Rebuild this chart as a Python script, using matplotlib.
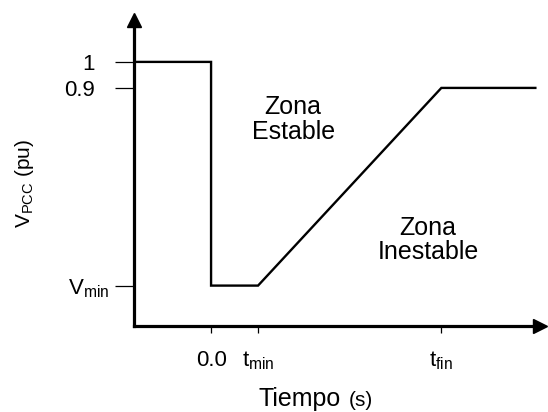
import matplotlib
matplotlib.use("Agg")
from matplotlib import pyplot as plt
from matplotlib import transforms

plt.rcParams["font.family"] = ["Liberation Sans", "DejaVu Sans"]
plt.rcParams["mathtext.fontset"] = "custom"
plt.rcParams["mathtext.rm"] = "Liberation Sans"
plt.rcParams["mathtext.it"] = "Liberation Sans"

# schematic voltage-time curve (t in units of t_min, V in pu)
v_min = 0.14
t_fin = 4.9
times = [-1.64, 0.0, 0.0, 1.0, t_fin, 6.9]
voltage = [1.0, 1.0, v_min, v_min, 0.9, 0.9]

xtick_pos = [0.0, 1.0, t_fin]
xtick_labels = ["0.0", r"$\mathregular{t_{min}}$", r"$\mathregular{t_{fin}}$"]
ytick_pos = [v_min, 0.9, 1.0]
ytick_labels = [r"$\mathregular{V_{min}}$", "0.9", "1"]

fig = plt.figure(figsize=(5.48, 4.12), dpi=100)
ax = fig.add_axes([0.2445, 0.2087, 0.741, 0.743])

ax.plot(times, voltage, color="black", lw=1.7, solid_joinstyle="miter")

ax.set_xlim(-1.64, 7.0)
ax.set_ylim(-0.0154, 1.1615)

for side in ["top", "right"]:
    ax.spines[side].set_visible(False)
for side in ["left", "bottom"]:
    ax.spines[side].set_linewidth(2.3)

# arrow heads on the axes
ax.plot(0, 1, marker="^", ms=10, color="black", transform=ax.transAxes, clip_on=False)
ax.plot(1, 0, marker=">", ms=10, color="black", transform=ax.transAxes, clip_on=False)

ax.set_xticks(xtick_pos)
ax.set_xticklabels(xtick_labels, fontsize=16)
ax.set_yticks(ytick_pos)
ax.set_yticklabels(ytick_labels, fontsize=16)
ax.tick_params(axis="y", direction="out", length=14, width=0.9, pad=14)
ax.tick_params(axis="x", direction="out", length=5, width=0.9, pad=12)

# V_min label sits closer to its tick
vlab = ax.get_yticklabels()[0]
vlab.set_transform(vlab.get_transform() + transforms.ScaledTranslation(14 / 100, 0, fig.dpi_scale_trans))

ax.text(0.392, 0.676, "Zona\nEstable", fontsize=18, ha="center", va="center",
        transform=ax.transAxes, linespacing=1.05)
ax.text(0.724, 0.281, "Zona\nInestable", fontsize=18, ha="center", va="center",
        transform=ax.transAxes, linespacing=1.05)

fig.text(24 / 548, 1 - 183 / 412, r"V$_{\mathregular{PCC}}$ (pu)", rotation=90,
         fontsize=15, ha="center", va="center")
fig.text(341 / 548, 1 - 399 / 412, "Tiempo", fontsize=18, ha="right", va="center")
fig.text(349 / 548, 1 - 400 / 412, "(s)", fontsize=15, ha="left", va="center")

fig.savefig("out.png", dpi=100)
